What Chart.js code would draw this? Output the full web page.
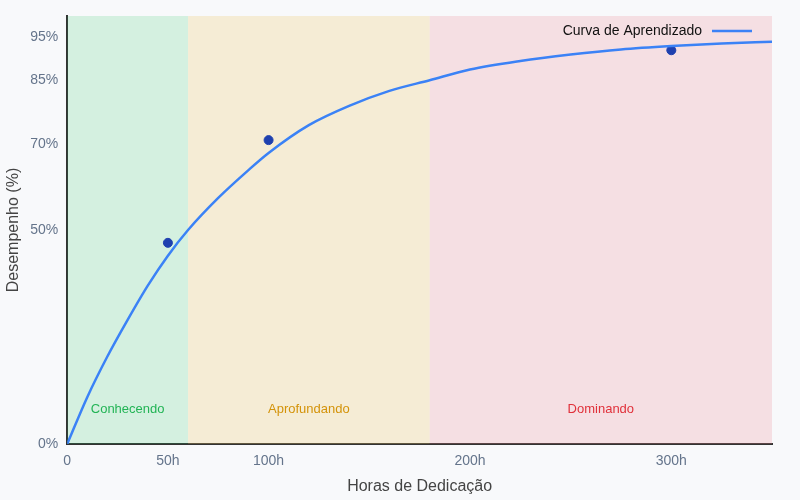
<!DOCTYPE html>
<html><head><meta charset="utf-8">
<script src="https://cdn.jsdelivr.net/npm/chart.js@4"></script>
<style>html,body{margin:0;background:#f8f9fb;}#wrap{width:800px;height:500px;}</style>
</head><body><div id="wrap"><canvas id="c"></canvas></div>
<script>
var curveHours = [0,10,20,30,40,50,60,75,90,100,120,140,160,180,200,225,250,275,300,325,350];
var curveValues = [0,11,20.5,29,37,44,50,57.5,64,68,74.5,79,82.5,85,87.5,89.5,91,92.2,93,93.6,94];
var obsHours = [50,100,300];
var obsValues = [47,71,92];
var yTicks = [0,50,70,85,95];
var xTicks = [0,50,100,200,300];
var legendLabel = 'Curva de Aprendizado';
var phases = [
	{from:0,to:60,label:'Conhecendo',fill:'rgba(34,197,94,0.17)',color:'#22b455'},
	{from:60,to:180,label:'Aprofundando',fill:'rgba(234,200,100,0.25)',color:'#d4930a'},
	{from:180,to:350,label:'Dominando',fill:'rgba(239,130,140,0.22)',color:'#e0303a'}
];

var phasePlugin = {
	id:'phases',
	beforeDatasetsDraw:function(chart){
		var ctx = chart.ctx, x = chart.scales.x, a = chart.chartArea;
		ctx.save();
		phases.forEach(function(p){
			var l = x.getPixelForValue(p.from), r = x.getPixelForValue(p.to);
			ctx.fillStyle = p.fill;
			ctx.fillRect(l,a.top,r-l,a.bottom-a.top);
			ctx.fillStyle = p.color;
			ctx.font = '13px "Liberation Sans", Arial';
			ctx.textAlign = 'center';
			ctx.textBaseline = 'middle';
			ctx.fillText(p.label,(l+r)/2,chart.scales.y.getPixelForValue(8));
		});
		ctx.restore();
	},
	afterDraw:function(chart){
		var ctx = chart.ctx, a = chart.chartArea;
		ctx.save();
		var lx = a.right - 20, y = a.top + 15;
		ctx.strokeStyle = '#3b82f6';
		ctx.lineWidth = 2.5;
		ctx.beginPath(); ctx.moveTo(lx-40,y); ctx.lineTo(lx,y); ctx.stroke();
		ctx.fillStyle = '#111';
		ctx.font = '14px "Liberation Sans", Arial';
		ctx.textAlign = 'right';
		ctx.textBaseline = 'middle';
		ctx.fillText(legendLabel,lx-50,y);
		ctx.restore();
	}
};

new Chart(document.getElementById('c'),{
	type:'line',
	data:{datasets:[
		{label:legendLabel,data:curveHours.map(function(h,i){return {x:h,y:curveValues[i]};}),
			borderColor:'#3b82f6',borderWidth:2.5,pointRadius:0,cubicInterpolationMode:'monotone',fill:false},
		{label:'obs',data:obsHours.map(function(h,i){return {x:h,y:obsValues[i]};}),
			showLine:false,pointRadius:4.5,backgroundColor:'#1e40af',borderColor:'#1e40af'}
	]},
	options:{
		responsive:true,maintainAspectRatio:false,animation:false,
		layout:{padding:{top:16,right:28,left:0,bottom:0}},
		plugins:{legend:{display:false},tooltip:{enabled:false}},
		scales:{
			x:{type:'linear',min:0,max:350,
				afterBuildTicks:function(s){s.ticks=xTicks.map(function(v){return {value:v};});},
				ticks:{color:'#64748b',font:{size:14},callback:function(v){return v===0?'0':v+'h';}},
				grid:{display:false,tickLength:6},border:{color:'#333',width:2},
				title:{display:true,text:'Horas de Dedicação',color:'#444',font:{size:16}}},
			y:{min:0,max:100,
				afterBuildTicks:function(s){s.ticks=yTicks.map(function(v){return {value:v};});},
				ticks:{color:'#64748b',font:{size:14},callback:function(v){return v+'%';}},
				grid:{display:false,tickLength:6},border:{color:'#333',width:2},
				title:{display:true,text:'Desempenho (%)',color:'#444',font:{size:16}}}
		}
	},
	plugins:[phasePlugin]
});
</script></body></html>
